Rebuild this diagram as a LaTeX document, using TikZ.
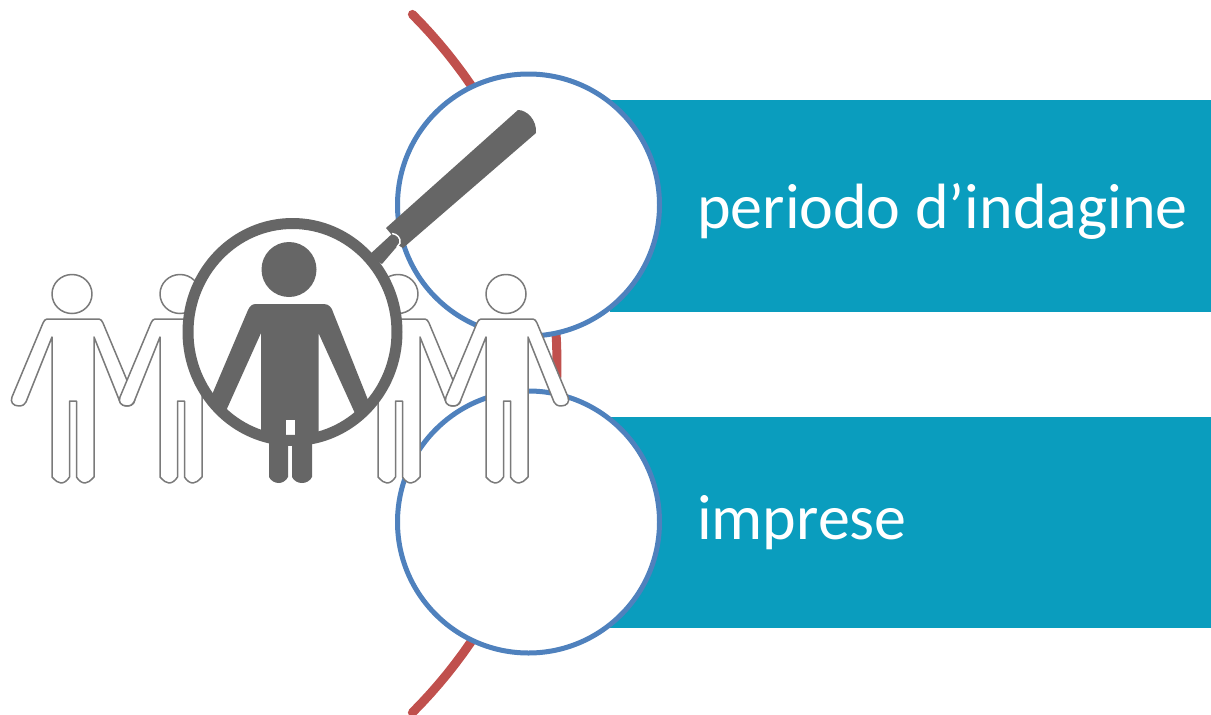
\documentclass[tikz,border=0pt]{standalone}
\usepackage{fontspec}
\setmainfont{Carlito}
\definecolor{bandteal}{HTML}{0A9DBE}
\definecolor{ringblue}{HTML}{4F81BD}
\definecolor{arcred}{HTML}{C0504D}
\definecolor{lensgray}{HTML}{666666}
\definecolor{linegray}{HTML}{7A7A7A}
\tikzset{
  band/.style={fill=bandteal},
  ring/.style={draw=ringblue, line width=5pt, fill=white},
  walker/.style={draw=linegray, line width=1.5pt, fill=white, line join=round},
  caption/.style={text=white, anchor=base west, inner sep=0pt, font=\fontsize{64}{64}\selectfont}
}
\begin{document}
\begin{tikzpicture}[x=1pt, y=-1pt]
  \useasboundingbox (0,0) rectangle (1211,715);
  % Red arc behind the two circles
  \draw[arcred, line width=9pt, line cap=round, domain=-45:45, samples=60] plot ({63.3+493.7*cos(\x)}, {363.5+493.7*sin(\x)});
  \fill[band] (610,100) rectangle (1211,312);
  \fill[band] (610,417) rectangle (1211,628);
  \draw[ring] (528.5,205) circle [radius=131];
  \draw[ring] (528.5,522) circle [radius=131];
  \node[caption] (periodo) at (697,228.5) {periodo d’indagine};
  \node[caption] (imprese) at (697,539.5) {imprese};
  % Row of people holding hands
  \foreach \px in {73,181,399,507} {
    \begin{scope}[shift={(\px,0)}]
      \draw[walker] (-1,294) ellipse [x radius=20, y radius=19.5];
      \draw[walker] (-26,319) -- (26,319) .. controls (28,319) and (29,321) .. (30,323) -- (61,397)
        .. controls (63,402) and (60,406) .. (54,406) .. controls (50,406) and (48,404) .. (47,402)
        -- (21,337) -- (21,477) .. controls (17,481) and (15,483) .. (12,483) .. controls (9,483) and (6,481) .. (3.5,477)
        -- (3.5,401) -- (-3.5,401) -- (-3.5,477) .. controls (-6,481) and (-9,483) .. (-12,483) .. controls (-15,483) and (-17,481) .. (-21,477)
        -- (-21,337) -- (-47,402) .. controls (-48,404) and (-50,406) .. (-54,406) .. controls (-60,406) and (-63,402) .. (-61,397)
        -- (-30,323) .. controls (-29,321) and (-28,319) .. (-26,319) -- cycle;
    \end{scope}
  }
  % Magnifying glass over the middle person
  \fill[lensgray] (386,228) -- (518,110) .. controls (527,110) and (537,120) .. (536,133) -- (403,248) -- (398,245) -- (391,234) -- cycle;
  \fill[lensgray] (368,256) -- (393,233) -- (400,243) -- (382,264) -- cycle;
  \draw[white, line width=1.5pt] (392,233.5) .. controls (397,234) and (401,238) .. (400,243) -- (397,247);
  \fill[white] (292.5,332) ellipse [x radius=104.5, y radius=108.5];
  \begin{scope}
    \clip (292.5,332) ellipse [x radius=104.5, y radius=108.5];
    \fill[lensgray] (289,269.5) circle [radius=27.5];
    \fill[lensgray] (256,304) -- (324,304) .. controls (329,304) and (332,308) .. (333,312) -- (376,420) -- (358,420)
      -- (318.5,333) -- (318.5,445) -- (261,445) -- (261,333) -- (221,422) -- (197,430) -- (248,310) .. controls (250,306) and (252,304) .. (256,304) -- cycle;
    \fill[white] (286,420) rectangle (295,435);
  \end{scope}
  \fill[lensgray] (269,440) -- (288,440) -- (288,477) .. controls (286,481) and (282,483) .. (279,483) .. controls (275,483) and (271,481) .. (269,477) -- cycle;
  \fill[lensgray] (292,440) -- (312,440) -- (312,477) .. controls (310,481) and (306,483) .. (302,483) .. controls (298,483) and (294,481) .. (292,477) -- cycle;
  \draw[lensgray, line width=11pt] (292.5,332) ellipse [x radius=104.5, y radius=108.5];
\end{tikzpicture}
\end{document}
